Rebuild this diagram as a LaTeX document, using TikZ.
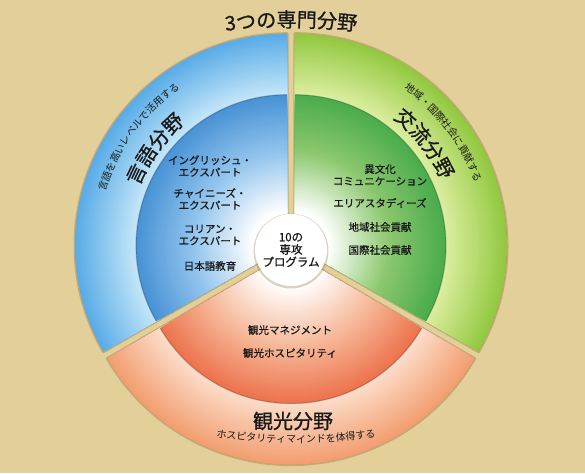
\documentclass[tikz,border=0pt]{standalone}
\usepackage{fontspec}
\setmainfont{Noto Sans CJK JP}
\newfontfamily\jpmed{Noto Sans CJK JP}[FakeBold=0.8]
\usetikzlibrary{decorations.text}

\definecolor{bg}{RGB}{227,207,153}
\definecolor{shadowc}{RGB}{140,105,55}
\definecolor{textc}{RGB}{25,25,25}
% Ro/Ri = ring outer/inner, Ie/Im = inner disc edge/middle
\definecolor{blueRo}{RGB}{88,172,231}
\definecolor{blueRi}{RGB}{198,231,249}
\definecolor{blueIe}{RGB}{72,146,213}
\definecolor{blueIm}{RGB}{145,196,237}
\definecolor{greenRo}{RGB}{146,200,64}
\definecolor{greenRi}{RGB}{221,239,162}
\definecolor{greenIe}{RGB}{74,172,76}
\definecolor{greenIm}{RGB}{140,200,110}
\definecolor{orangeRo}{RGB}{242,158,112}
\definecolor{orangeRi}{RGB}{252,222,203}
\definecolor{orangeIe}{RGB}{237,115,78}
\definecolor{orangeIm}{RGB}{246,184,152}

\newcommand\titlejp{\jpmed\fontsize{20}{20}\selectfont\color{textc}}
\newcommand\bigjp{\jpmed\fontsize{20}{20}\selectfont\color{textc}}
\newcommand\smalljp{\fontsize{10}{10}\selectfont\color{textc}}

\tikzset{
  item/.style={font=\jpmed\fontsize{10.5}{12}\selectfont, align=center, text=textc, inner sep=0pt},
  arctext/.style={decorate, decoration={text along path, text align=center, text={#1}}}
}

\begin{document}
\begin{tikzpicture}[x=1pt,y=1pt]
\fill[bg] (0,0) rectangle (585,473);
\useasboundingbox (0,0) rectangle (585,473);
\coordinate (c) at (291,225);

% shadows, then the three sectors
\foreach \b in {150,30,270}
  \filldraw[shadowc, opacity=.35, line width=3pt, line join=round, shift={(c)}, shift={(\b:4.6)}]
    (0,0) -- (\b-60:212) arc[start angle=\b-60, end angle=\b+60, radius=212] -- cycle;
\foreach \b/\sh in {150/blue,30/green,270/orange}{
  \begin{scope}[shift={(c)}, shift={(\b:4.6)}]
    \clip (0,0) -- (\b-60:212) arc[start angle=\b-60, end angle=\b+60, radius=212] -- cycle;
    \foreach \i [evaluate=\i as \p using 2.5*\i] in {0,...,40}
      \fill[\sh Ri!\p!\sh Ro] (0,0) circle ({212-1.525*\i});
    \foreach \i [evaluate=\i as \p using 100*\i/28] in {0,...,28}
      \fill[\sh Im!\p!\sh Ie] (0,0) circle ({151-2*\i});
    \foreach \i [evaluate=\i as \p using 100*\i/30] in {0,...,30}
      \fill[white!\p!\sh Im] (0,0) circle ({95-2*\i});
    \draw[black, opacity=.2, line width=1.2pt] (\b-60:151) arc[start angle=\b-60, end angle=\b+60, radius=151];
  \end{scope}
}

\fill[shadowc, opacity=.3] (291,222) circle (37.5);
\node[circle, fill=white, minimum size=72pt, inner sep=0pt, align=center, font=\jpmed\fontsize{11.5}{12.5}\selectfont, text=textc] (prog) at (291,223) {10の\\専攻\\プログラム};

\node[item] (english) at (210,307) {イングリッシュ・\\エクスパート};
\node[item] (chinese) at (210,274) {チャイニーズ・\\エクスパート};
\node[item] (korean) at (210,238) {コリアン・\\エクスパート};
\node[item] (nihongo) at (210,207) {日本語教育};

\node[item] (ibunka) at (380,298) {異文化\\コミュニケーション};
\node[item] (area) at (380,270) {エリアスタディーズ};
\node[item] (chiiki) at (380,246) {地域社会貢献};
\node[item] (kokusai) at (380,223) {国際社会貢献};

\node[item] (manage) at (290,143) {観光マネジメント};
\node[item] (hospi) at (290,120) {観光ホスピタリティ};

\node[font=\bigjp, inner sep=0pt] (kanko) at (293,52) {観光分野};

\begin{scope}[shift={(c)}]
\path[arctext={|\smalljp|言語を高いレベルで活用する}] (170:194) arc[start angle=170, end angle=118, radius=194];
\path[arctext={|\bigjp|言語分野}] (175:164) arc[start angle=175, end angle=113, radius=164];
\path[arctext={|\smalljp|地域・国際社会に貢献する}] (63:195) arc[start angle=63, end angle=11, radius=195];
\path[arctext={|\bigjp|交流分野}] (68:165) arc[start angle=68, end angle=8, radius=165];
\end{scope}
\begin{scope}[shift={(291,-104)}]
\path[arctext={|\titlejp|3つの専門分野}] (98:550) arc[start angle=98, end angle=82, radius=550];
\end{scope}
\begin{scope}[shift={(296,590)}]
\path[arctext={|\smalljp|ホスピタリティマインドを体得する}] (261:560) arc[start angle=261, end angle=279, radius=560];
\end{scope}
\end{tikzpicture}
\end{document}
